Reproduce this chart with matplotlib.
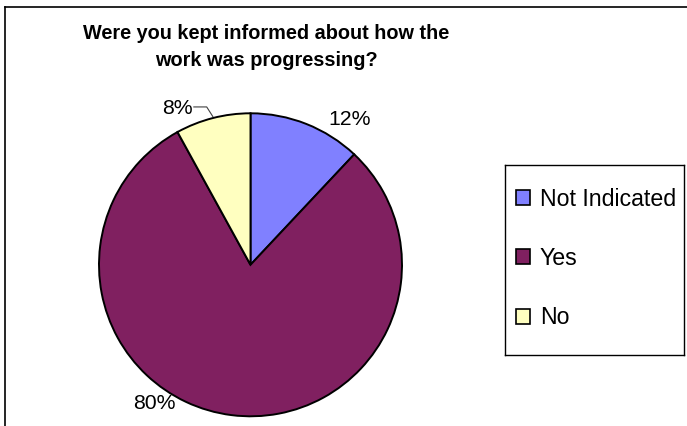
import numpy as np
import matplotlib.pyplot as plt
from matplotlib.lines import Line2D

plt.rcParams['font.family'] = ['Liberation Sans', 'DejaVu Sans']

# survey answers
categories = ["Not Indicated", "Yes", "No"]
shares = [12, 80, 8]
colors = ["#8080FF", "#802060", "#FFFFC0"]
title = "Were you kept informed about how the\nwork was progressing?"

# label placement in units of the pie radius
label_pos = [(0.657, 0.956), (-0.637, -0.916), (-0.479, 1.032)]

W, H = 687, 426
fig = plt.figure(figsize=(W / 100, H / 100), dpi=100)

# chart frame (left and top edges)
fig.add_artist(Line2D([5 / W, 5 / W], [0, 1 - 7 / H], color="black", lw=1.2,
                      transform=fig.transFigure))
fig.add_artist(Line2D([5 / W, 1], [1 - 7 / H, 1 - 7 / H], color="black", lw=1.2,
                      transform=fig.transFigure))

# pie axes: centre (250.5, 264.8) px, radius 151.5 px
cx, cy, r = 250.5, 264.8, 151.5
pad = 1.3
ax = fig.add_axes([(cx - r * pad) / W, 1 - (cy + r * pad) / H,
                   2 * r * pad / W, 2 * r * pad / H])

wedges, _ = ax.pie(shares, colors=colors, startangle=90, counterclock=False,
                   radius=1.0, wedgeprops=dict(edgecolor="black", linewidth=1.4))
ax.set_xlim(-pad, pad)
ax.set_ylim(-pad, pad)
ax.set_aspect("equal")
ax.axis("off")

for w, val, (lx, ly) in zip(wedges, shares, label_pos):
    ax.text(lx, ly, f"{val}%", ha="center", va="center", fontsize=15.3)

# leader line for the small "No" slice
w = wedges[2]
mid = np.deg2rad((w.theta1 + w.theta2) / 2)
ex, ey = np.cos(mid), np.sin(mid)
lx, ly = label_pos[2]
ax.plot([lx + 0.105, lx + 0.19, ex], [ly + 0.01, ly + 0.01, ey + 0.01],
        color="#404040", lw=0.8, clip_on=False)

fig.text(266 / W, 1 - 47 / H, title, ha="center", va="center",
         fontsize=14.3, fontweight="bold", linespacing=1.5)

# legend box
lx0, ly0, lx1, ly1 = 505, 165, 684, 355
lax = fig.add_axes([lx0 / W, 1 - ly1 / H, (lx1 - lx0) / W, (ly1 - ly0) / H])
lax.set_xticks([])
lax.set_yticks([])
for s in lax.spines.values():
    s.set_color("black")
    s.set_linewidth(1.0)

leg = lax.legend(wedges, categories, loc="center left",
                 bbox_to_anchor=(11 / (lx1 - lx0), 1 - (258.5 - ly0) / (ly1 - ly0)),
                 fontsize=16.7, frameon=False,
                 handlelength=0.62, handleheight=0.62, handletextpad=0.4,
                 borderpad=0, labelspacing=1.57, borderaxespad=0)
for h in leg.legend_handles:
    h.set_linewidth(1.2)

fig.savefig("out.png", dpi=100)
